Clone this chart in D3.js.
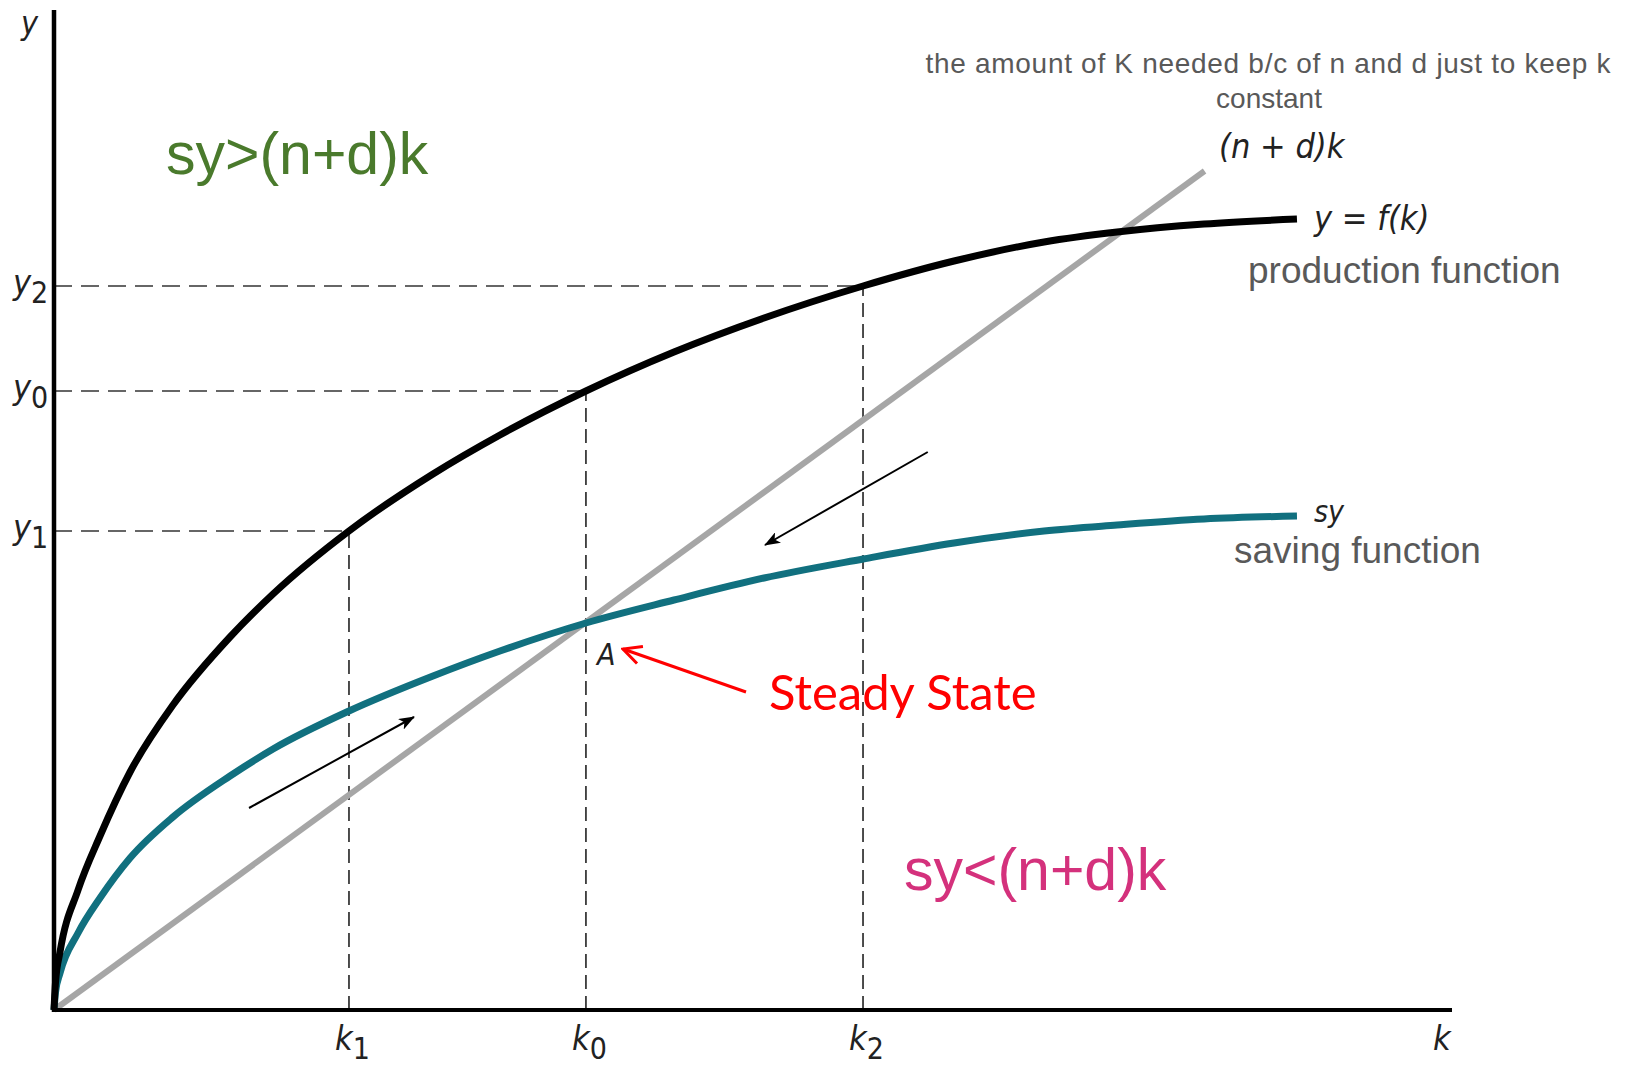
<!DOCTYPE html>
<html>
<head>
<meta charset="utf-8">
<style>
  body { margin: 0; background: #fff; }
  svg { display: block; }
  .math { font-family: "Liberation Sans Narrow", "DejaVu Sans Condensed", sans-serif; font-style: italic; fill: #222; }
  .sub { font-style: normal; }
  .note { font-family: "Liberation Sans", Arial, sans-serif; fill: #595959; }
</style>
<title>Solow steady state</title>
</head>
<body>
<script src="https://cdn.jsdelivr.net/npm/d3@7/dist/d3.min.js"></script>
<script>
var curveK = [0, 0.011, 0.043, 0.172, 0.329, 0.544, 0.851, 1.259, 1.567, 2.11, 2.711, 3.19,
              3.805, 4.435, 5.079, 5.787, 6.438, 7.082, 7.604, 8.226, 8.891];

// production function y = f(k)
var prodY = [0, 0.28, 0.58, 1.20, 1.74, 2.38, 3.05, 3.73, 4.16, 4.79, 5.36, 5.75,
             6.19, 6.58, 6.92, 7.24, 7.49, 7.68, 7.78, 7.86, 7.91];

// saving function sy
var saveY = [0, 0.18, 0.37, 0.77, 1.12, 1.52, 1.93, 2.34, 2.61, 2.99, 3.34, 3.59,
             3.87, 4.10, 4.32, 4.51, 4.67, 4.79, 4.85, 4.91, 4.94];

// break-even line (n+d)k
var lineK = [0, 8.23];
var lineY = [0, 8.39];

// marked points on the axes
var guideNames = ["1", "0", "2"];
var guideK = [2.11, 3.805, 5.787];
var guideY = [4.79, 6.19, 7.24];

var width = 1629, height = 1072;

var x = d3.scaleLinear().domain([0, 10]).range([54, 1452]);
var y = d3.scaleLinear().domain([0, 10]).range([1010, 10]);

var svg = d3.select("body").append("svg")
    .attr("width", width)
    .attr("height", height);

var defs = svg.append("defs");
defs.append("marker")
    .attr("id", "head")
    .attr("markerUnits", "userSpaceOnUse")
    .attr("viewBox", "0 0 16 12")
    .attr("refX", 15).attr("refY", 6)
    .attr("markerWidth", 16).attr("markerHeight", 12)
    .attr("orient", "auto")
    .append("path")
    .attr("d", "M0,0 L16,6 L0,12 L4,6 z")
    .attr("fill", "#000");
defs.append("marker")
    .attr("id", "redhead")
    .attr("markerUnits", "userSpaceOnUse")
    .attr("viewBox", "0 0 24 24")
    .attr("refX", 22).attr("refY", 12)
    .attr("markerWidth", 24).attr("markerHeight", 24)
    .attr("orient", "auto")
    .append("path")
    .attr("d", "M4,3 L22,12 L4,21")
    .attr("fill", "none")
    .attr("stroke", "#ff0000")
    .attr("stroke-width", 3);

var line = d3.line()
    .x(function (d) { return x(d[0]); })
    .y(function (d) { return y(d[1]); })
    .curve(d3.curveMonotoneX);

// dashed guides
guideK.forEach(function (k, i) {
    svg.append("line")
        .attr("x1", x(0)).attr("x2", x(k))
        .attr("y1", y(guideY[i])).attr("y2", y(guideY[i]))
        .attr("stroke", "#666").attr("stroke-width", 2)
        .attr("stroke-dasharray", "18,9");
    svg.append("line")
        .attr("x1", x(k)).attr("x2", x(k))
        .attr("y1", y(0)).attr("y2", y(guideY[i]))
        .attr("stroke", "#222").attr("stroke-width", 1.6)
        .attr("stroke-dasharray", "14,7");
});

// (n+d)k line
svg.append("path")
    .datum(d3.zip(lineK, lineY))
    .attr("d", d3.line().x(function (d) { return x(d[0]); }).y(function (d) { return y(d[1]); }))
    .attr("fill", "none")
    .attr("stroke", "#a6a6a6")
    .attr("stroke-width", 6);

// saving function
svg.append("path")
    .datum(d3.zip(curveK, saveY))
    .attr("d", line)
    .attr("fill", "none")
    .attr("stroke", "#11707f")
    .attr("stroke-width", 7);

// production function
svg.append("path")
    .datum(d3.zip(curveK, prodY))
    .attr("d", line)
    .attr("fill", "none")
    .attr("stroke", "#000")
    .attr("stroke-width", 7);

// axes
svg.append("line")
    .attr("x1", x(0)).attr("x2", x(0))
    .attr("y1", y(10)).attr("y2", y(0) + 2)
    .attr("stroke", "#000").attr("stroke-width", 4.5);
svg.append("line")
    .attr("x1", x(0) - 2).attr("x2", x(10))
    .attr("y1", y(0)).attr("y2", y(0))
    .attr("stroke", "#000").attr("stroke-width", 4);

// direction arrows
svg.append("line")
    .attr("x1", x(1.395)).attr("y1", y(2.02))
    .attr("x2", x(2.575)).attr("y2", y(2.93))
    .attr("stroke", "#000").attr("stroke-width", 2)
    .attr("marker-end", "url(#head)");
svg.append("line")
    .attr("x1", x(6.25)).attr("y1", y(5.58))
    .attr("x2", x(5.086)).attr("y2", y(4.65))
    .attr("stroke", "#000").attr("stroke-width", 2)
    .attr("marker-end", "url(#head)");
svg.append("line")
    .attr("x1", x(4.95)).attr("y1", y(3.18))
    .attr("x2", x(4.07)).attr("y2", y(3.61))
    .attr("stroke", "#ff0000").attr("stroke-width", 3)
    .attr("marker-end", "url(#redhead)");

// axis labels
function mathLabel(px, py, main, sub, size) {
    var t = svg.append("text").attr("class", "math")
        .attr("x", px).attr("y", py)
        .style("font-size", size + "px")
        .text(main);
    if (sub) {
        t.append("tspan").attr("class", "sub")
            .attr("dy", 9)
            .style("font-size", (size - 4) + "px")
            .text(sub);
    }
    return t;
}

mathLabel(21, 34, "y", null, 32);
mathLabel(1433, 1050, "k", null, 34);
guideK.forEach(function (k, i) {
    mathLabel(x(k) - 14, 1050, "k", guideNames[i], 34);
});
guideY.forEach(function (v, i) {
    mathLabel(13, y(v) + 8, "y", guideNames[i], 34);
});

mathLabel(1219, 158, "(n + d)k", null, 34);
mathLabel(1314, 230, "y = f(k)", null, 34);
mathLabel(1314, 522, "sy", null, 30);
mathLabel(x(3.805) + 11, y(3.87) + 42, "A", null, 30);

// annotations
svg.append("text").attr("class", "note")
    .attr("x", 1268).attr("y", 73)
    .attr("text-anchor", "middle")
    .attr("textLength", 685)
    .attr("lengthAdjust", "spacing")
    .style("font-family", "'Liberation Sans Narrow', sans-serif")
    .style("font-size", "28px")
    .text("the amount of K needed b/c of n and d just to keep k");
svg.append("text").attr("class", "note")
    .attr("x", 1269).attr("y", 108)
    .attr("text-anchor", "middle")
    .style("font-family", "'Liberation Sans Narrow', sans-serif")
    .style("font-size", "28px")
    .text("constant");

svg.append("text").attr("class", "note")
    .attr("x", 1248).attr("y", 283)
    .style("font-size", "37px")
    .text("production function");
svg.append("text").attr("class", "note")
    .attr("x", 1234).attr("y", 563)
    .style("font-size", "37px")
    .text("saving function");

svg.append("text")
    .attr("x", 166).attr("y", 174)
    .style("font-family", "'Liberation Sans', Arial, sans-serif")
    .style("font-size", "59px")
    .style("fill", "#4a7a2c")
    .text("sy>(n+d)k");
svg.append("text")
    .attr("x", 904).attr("y", 890)
    .style("font-family", "'Liberation Sans', Arial, sans-serif")
    .style("font-size", "59px")
    .style("fill", "#d4317c")
    .text("sy<(n+d)k");

svg.append("text")
    .attr("x", 769).attr("y", 710)
    .style("font-family", "Lato, 'Open Sans', sans-serif")
    .style("font-size", "49px")
    .style("fill", "#ff0000")
    .text("Steady State");
</script>
</body>
</html>
